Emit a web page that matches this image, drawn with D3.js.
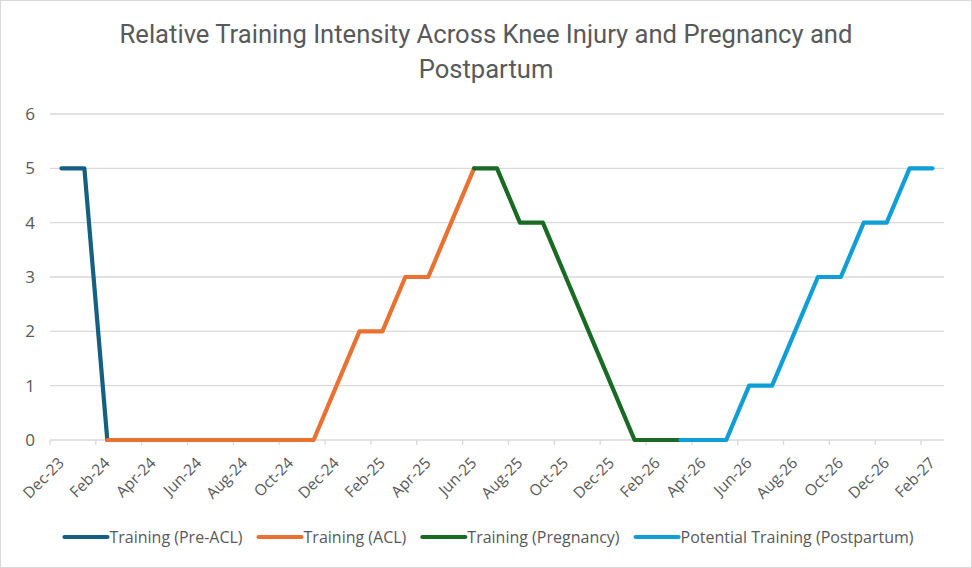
<!DOCTYPE html>
<html>
<head>
<meta charset="utf-8">
<script src="https://cdn.jsdelivr.net/npm/d3@7"></script>
<style>
  html, body { margin: 0; padding: 0; background: #fff; }
  svg { display: block; }
</style>
</head>
<body>
<svg id="chart" width="972" height="568"></svg>
<script>
// ---- Data ----
const months = ["Dec-23","Jan-24","Feb-24","Mar-24","Apr-24","May-24","Jun-24","Jul-24","Aug-24","Sep-24","Oct-24","Nov-24",
  "Dec-24","Jan-25","Feb-25","Mar-25","Apr-25","May-25","Jun-25","Jul-25","Aug-25","Sep-25","Oct-25","Nov-25",
  "Dec-25","Jan-26","Feb-26","Mar-26","Apr-26","May-26","Jun-26","Jul-26","Aug-26","Sep-26","Oct-26","Nov-26",
  "Dec-26","Jan-27","Feb-27"];
const N = null;
const preACL =     [5,5,0,N,N,N,N,N,N,N,N,N, N,N,N,N,N,N,N,N,N,N,N,N, N,N,N,N,N,N,N,N,N,N,N,N, N,N,N];
const acl =        [N,N,0,0,0,0,0,0,0,0,0,0, 1,2,2,3,3,4,5,N,N,N,N,N, N,N,N,N,N,N,N,N,N,N,N,N, N,N,N];
const pregnancy =  [N,N,N,N,N,N,N,N,N,N,N,N, N,N,N,N,N,N,5,5,4,4,3,2, 1,0,0,0,N,N,N,N,N,N,N,N, N,N,N];
const postpartum = [N,N,N,N,N,N,N,N,N,N,N,N, N,N,N,N,N,N,N,N,N,N,N,N, N,N,N,0,0,0,1,1,2,3,3,4, 4,5,5];
const seriesNames = ["Training (Pre-ACL)","Training (ACL)","Training (Pregnancy)","Potential Training (Postpartum)"];
const seriesValues = [preACL, acl, pregnancy, postpartum];
const seriesColors = ["#156082","#E97132","#196B24","#0F9ED5"];
const yTicks = [0,1,2,3,4,5,6];
const titleLines = ["Relative Training Intensity Across Knee Injury and Pregnancy and","Postpartum"];

// ---- Layout ----
const W = 972, H = 568;
const plot = {left: 50, right: 944, top: 114, bottom: 440};
const textColor = "#595959", gridColor = "#d9d9d9";
const svg = d3.select("#chart");

svg.append("rect").attr("x",0.5).attr("y",0.5).attr("width",W-1).attr("height",H-1)
  .attr("fill","#fff").attr("stroke","#d9d9d9").attr("stroke-width",1);

const x = d3.scaleLinear().domain([0, months.length]).range([plot.left, plot.right]);
const y = d3.scaleLinear().domain([0, 6]).range([plot.bottom, plot.top]);

// title
svg.append("g").selectAll("text").data(titleLines).join("text")
  .attr("x", 486).attr("y", (d,i) => 43 + i*35)
  .attr("text-anchor","middle")
  .attr("font-family","Roboto, 'Liberation Sans', sans-serif")
  .attr("font-size", 25.6).attr("fill", textColor)
  .text(d => d);

// gridlines
svg.append("g").selectAll("line").data(yTicks.filter(d => d > 0)).join("line")
  .attr("x1", plot.left).attr("x2", plot.right)
  .attr("y1", d => y(d)).attr("y2", d => y(d))
  .attr("stroke", gridColor).attr("stroke-width", 1.3);

// y labels
svg.append("g").selectAll("text").data(yTicks).join("text")
  .attr("x", 35).attr("y", d => y(d)).attr("dy","0.36em")
  .attr("text-anchor","end")
  .attr("font-family","'Open Sans', sans-serif").attr("font-size", 17)
  .attr("fill", textColor).text(d => d);

// x axis line + ticks
svg.append("line").attr("x1", plot.left).attr("x2", plot.right)
  .attr("y1", y(0)).attr("y2", y(0)).attr("stroke", gridColor).attr("stroke-width", 1.3);
const tickIdx = d3.range(0, months.length, 2);
svg.append("g").selectAll("line").data(tickIdx).join("line")
  .attr("x1", i => x(i)).attr("x2", i => x(i))
  .attr("y1", y(0)).attr("y2", y(0) + 5)
  .attr("stroke", gridColor).attr("stroke-width", 1.3);
svg.append("g").selectAll("text").data(tickIdx).join("text")
  .attr("transform", i => `translate(${x(i) + 15},${y(0) + 24}) rotate(-45)`)
  .attr("text-anchor","end")
  .attr("font-family","'Open Sans', sans-serif").attr("font-size", 15.5)
  .attr("fill", textColor).text(i => months[i]);

// lines
const line = d3.line()
  .defined(d => d != null)
  .x((d, i) => x(i + 0.5))
  .y(d => y(d));
svg.append("g").selectAll("path").data(seriesValues).join("path")
  .attr("d", d => line(d))
  .attr("fill","none")
  .attr("stroke", (d,i) => seriesColors[i])
  .attr("stroke-width", 4.2)
  .attr("stroke-linecap","round").attr("stroke-linejoin","round");

// legend
const legY = 537, markLen = 43, markGap = 2, itemGap = 16;
const leg = svg.append("g");
const items = seriesNames.map((name, i) => {
  const g = leg.append("g");
  g.append("line").attr("x1", 0).attr("x2", markLen).attr("y1", legY).attr("y2", legY)
    .attr("stroke", seriesColors[i]).attr("stroke-width", 4.2).attr("stroke-linecap","round");
  const t = g.append("text").attr("x", markLen + markGap).attr("y", legY).attr("dy","0.35em")
    .attr("font-family","'Open Sans', sans-serif").attr("font-size", 16)
    .attr("fill", textColor).text(name);
  return {g, w: markLen + markGap + t.node().getComputedTextLength()};
});
const total = d3.sum(items, d => d.w) + itemGap * (items.length - 1);
let cx = 489 - total / 2;
items.forEach(it => { it.g.attr("transform", `translate(${cx},0)`); cx += it.w + itemGap; });
</script>
</body>
</html>
